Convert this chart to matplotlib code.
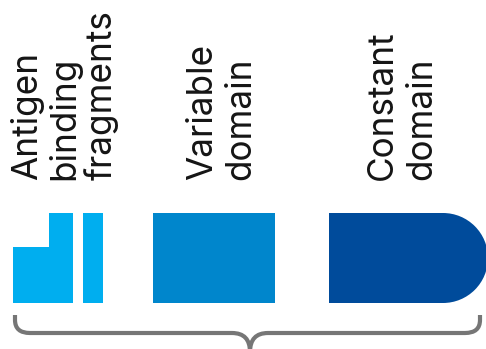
import matplotlib
matplotlib.use("Agg")
import matplotlib.pyplot as plt
from matplotlib.patches import Rectangle, Wedge, PathPatch, Polygon
from matplotlib.path import Path

# ---- content ----
labels = ["Antigen\nbinding\nfragments", "Variable\ndomain", "Constant\ndomain"]
label_baselines = [[37, 74, 112], [212, 250], [392, 431]]
colors = ["#00AEEF", "#0086CC", "#004B9B"]

W, H = 486, 349
fig = plt.figure(figsize=(W / 100, H / 100), dpi=100)
ax = fig.add_axes([0, 0, 1, 1])
ax.set_xlim(0, W)
ax.set_ylim(H, 0)
ax.axis("off")

font = "Inter"
fs = 25.3
for lab, bases in zip(labels, label_baselines):
    for line, bx in zip(lab.split("\n"), bases):
        ax.text(bx, 180, line, rotation=90, rotation_mode="anchor",
                ha="left", va="baseline", fontsize=fs, family=font, color="#151515")

top, bot = 213, 303
# Antigen binding fragments: L shape + thin bar
L = Polygon([(13, bot), (13, 247), (49, 247), (49, top), (73, top), (73, bot)],
            closed=True, facecolor=colors[0], edgecolor="none")
ax.add_patch(L)
ax.add_patch(Rectangle((83, top), 20, bot - top, facecolor=colors[0], edgecolor="none"))
# Variable domain
ax.add_patch(Rectangle((153, top), 122, bot - top, facecolor=colors[1], edgecolor="none"))
# Constant domain (D shape)
r = (bot - top) / 2
ax.add_patch(Rectangle((329, top), 114.5, bot - top, facecolor=colors[2], edgecolor="none"))
ax.add_patch(Wedge((443, top + r), r, -90, 90, facecolor=colors[2], edgecolor="none"))

# Curly brace
yb = 333
verts = [(15, 315), (15, 320),
         (15, yb), (30, yb),
         (232, yb),
         (250, yb), (250, 352),
         (250, yb), (268, yb),
         (465, yb),
         (480, yb), (480, 320),
         (480, 315)]
codes = [Path.MOVETO, Path.LINETO,
         Path.CURVE3, Path.CURVE3,
         Path.LINETO,
         Path.CURVE3, Path.CURVE3,
         Path.CURVE3, Path.CURVE3,
         Path.LINETO,
         Path.CURVE3, Path.CURVE3,
         Path.LINETO]
ax.add_patch(PathPatch(Path(verts, codes), facecolor="none", edgecolor="#767676",
                       linewidth=3, capstyle="butt", joinstyle="round"))

fig.savefig("out.png", dpi=100)
